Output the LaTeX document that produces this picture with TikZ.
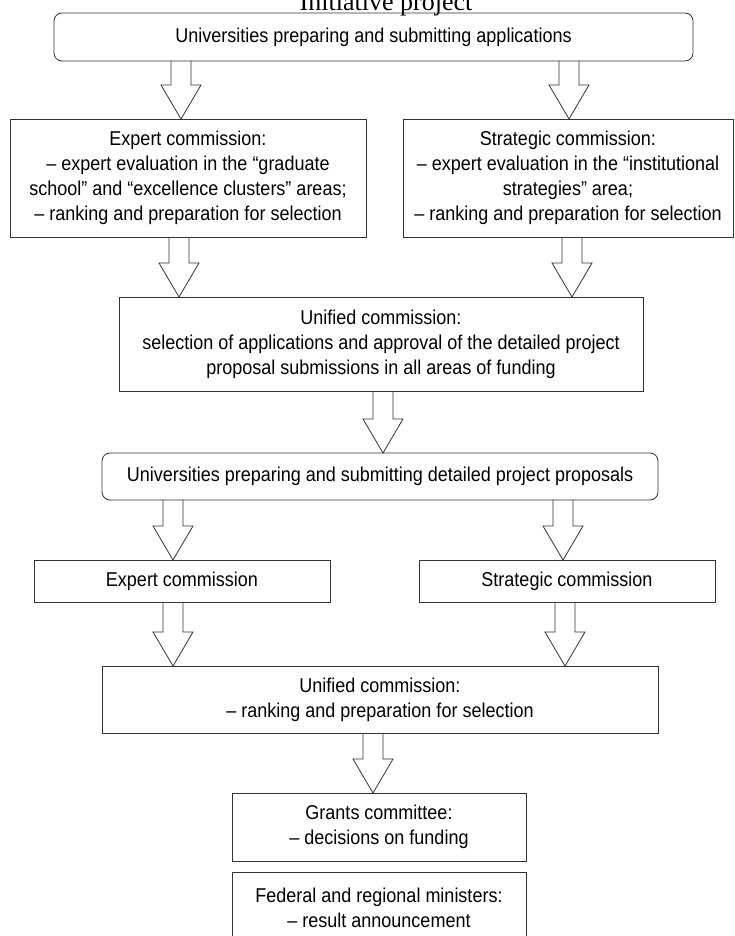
\documentclass[tikz,border=0pt]{standalone}
\usepackage{fontspec}
\setmainfont{Liberation Sans}[FakeStretch=0.9]
\newfontfamily\titleserif{Liberation Serif}
\usetikzlibrary{calc}
\tikzset{
  stdbox/.style={draw=black!80, line width=0.8pt, align=center, inner sep=0pt, outer sep=0pt,
    font=\fontsize{20}{25}\selectfont},
  roundbox/.style={stdbox, rounded corners=8pt},
  barrow/.style={draw=black!80, line width=0.8pt, line join=miter}
}
\newcommand\blockarrow[3]{%
  \draw[barrow] let \p1=(#2.south), \p2=(#3.north) in
    (#1pt-10pt,\y1) -- (#1pt-10pt,\y2+34pt) -- (#1pt-20pt,\y2+34pt) -- (#1pt,\y2)
    -- (#1pt+20pt,\y2+34pt) -- (#1pt+10pt,\y2+34pt) -- (#1pt+10pt,\y1);}
\begin{document}
\begin{tikzpicture}[x=1pt,y=-1pt]
\path[use as bounding box, clip] (0,0) rectangle (735,936);
\node[anchor=base, font=\titleserif\fontsize{26}{30}\selectfont] (title) at (386,11) {Initiative project};

\node[roundbox, minimum width=639pt, minimum height=48pt] (top) at (373.5,37)
  {Universities preparing and submitting applications};
\node[stdbox, minimum width=356pt, minimum height=118pt] (exp1) at (188,178)
  {Expert commission:\\– expert evaluation in the “graduate\\school” and “excellence clusters” areas;\\– ranking and preparation for selection};
\node[stdbox, minimum width=330pt, minimum height=118pt] (str1) at (568,178)
  {Strategic commission:\\– expert evaluation in the “institutional\\strategies” area;\\– ranking and preparation for selection};
\node[stdbox, minimum width=524pt, minimum height=94pt] (uni1) at (381,344)
  {Unified commission:\\selection of applications and approval of the detailed project\\proposal submissions in all areas of funding};
\node[roundbox, minimum width=556pt, minimum height=47pt] (top2) at (380,476.5)
  {Universities preparing and submitting detailed project proposals};
\node[stdbox, minimum width=296pt, minimum height=42pt] (exp2) at (182,581) {Expert commission};
\node[stdbox, minimum width=296pt, minimum height=42pt] (str2) at (567,581) {Strategic commission};
\node[stdbox, minimum width=556pt, minimum height=67pt] (uni2) at (380,699.5)
  {Unified commission:\\– ranking and preparation for selection};
\node[stdbox, minimum width=294pt, minimum height=68pt] (grants) at (379,827)
  {Grants committee:\\– decisions on funding};
\node[stdbox, minimum width=294pt, minimum height=72pt] (fed) at (379,908)
  {Federal and regional ministers:\\– result announcement};

\blockarrow{181}{top}{exp1}
\blockarrow{569}{top}{str1}
\blockarrow{179}{exp1}{uni1}
\blockarrow{572}{str1}{uni1}
\blockarrow{383}{uni1}{top2}
\blockarrow{173}{top2}{exp2}
\blockarrow{563}{top2}{str2}
\blockarrow{173}{exp2}{uni2}
\blockarrow{565}{str2}{uni2}
\blockarrow{373}{uni2}{grants}
\end{tikzpicture}
\end{document}
